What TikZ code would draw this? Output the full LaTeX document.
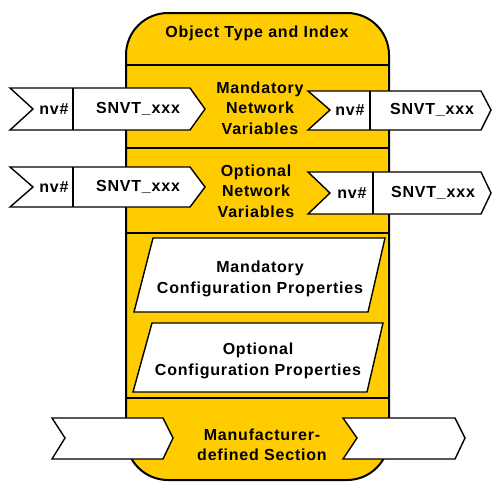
\documentclass[tikz,border=0pt]{standalone}
\usepackage{fontspec}
\setmainfont{Liberation Sans}
\newfontfamily\lab[LetterSpace=5]{Liberation Sans}
\definecolor{gold}{RGB}{255,204,0}
\begin{document}
\begin{tikzpicture}[x=1pt,y=-1pt,
  body/.style={draw=black,line width=2pt,fill=gold},
  sep/.style={draw=black,line width=1.6pt},
  flag/.style={draw=black,line width=1.4pt,fill=white,line join=miter},
  txt/.style={font=\lab\bfseries\fontsize{16}{20.5}\selectfont,align=center,inner sep=0pt}]
\useasboundingbox (0,0) rectangle (492,482);
% body
\draw[body,rounded corners=42pt] (126,13) rectangle (389,480);
\draw[sep] (126,65) -- (389,65);
\draw[sep] (126,148) -- (389,148);
\draw[sep] (126,233) -- (389,233);
\draw[sep] (126,398) -- (389,398);
\node[txt] (title) at (257,33) {Object Type and Index};
\node[txt] (mnv) at (260,108) {Mandatory\\Network\\Variables};
\node[txt] (onv) at (256,191) {Optional\\Network\\Variables};
% config properties
\draw[flag] (153,238) -- (385,238) -- (368,312) -- (134,312) -- cycle;
\node[txt] (mcp) at (260,279) {Mandatory\\Configuration Properties};
\draw[flag] (152,323) -- (383,323) -- (367,392) -- (133,392) -- cycle;
\node[txt] (ocp) at (258,361) {Optional\\Configuration Properties};
% network variable flags
\draw[flag] (10,88) -- (190,88) -- (205,109) -- (190,130) -- (10,130) -- (33,109) -- cycle;
\draw[flag] (73,88) -- (73,130);
\node[txt] (nv1) at (54,109) {nv\#};
\node[txt] (sv1) at (138,109) {SNVT\_xxx};
\draw[flag] (308,91) -- (481,91) -- (491,110) -- (481,130) -- (308,130) -- (330,110) -- cycle;
\draw[flag] (370,91) -- (370,130);
\node[txt] (nv2) at (350,110) {nv\#};
\node[txt] (sv2) at (432,110) {SNVT\_xxx};
\draw[flag] (10,167) -- (190,167) -- (205,187) -- (190,207) -- (10,207) -- (33,187) -- cycle;
\draw[flag] (73,167) -- (73,207);
\node[txt] (nv3) at (54,187) {nv\#};
\node[txt] (sv3) at (138,187) {SNVT\_xxx};
\draw[flag] (308,172) -- (481,172) -- (491,193) -- (481,214) -- (308,214) -- (330,193) -- cycle;
\draw[flag] (373,172) -- (373,214);
\node[txt] (nv4) at (352,193) {nv\#};
\node[txt] (sv4) at (433,193) {SNVT\_xxx};
% manufacturer section
\draw[flag] (52,418) -- (163,418) -- (173,438) -- (163,459) -- (52,459) -- (65,438) -- cycle;
\draw[flag] (343,418) -- (455,418) -- (465,438) -- (455,459) -- (343,459) -- (357,438) -- cycle;
\node[txt] (mfs) at (262,445) {Manufacturer-\\defined Section};
\end{tikzpicture}
\end{document}
